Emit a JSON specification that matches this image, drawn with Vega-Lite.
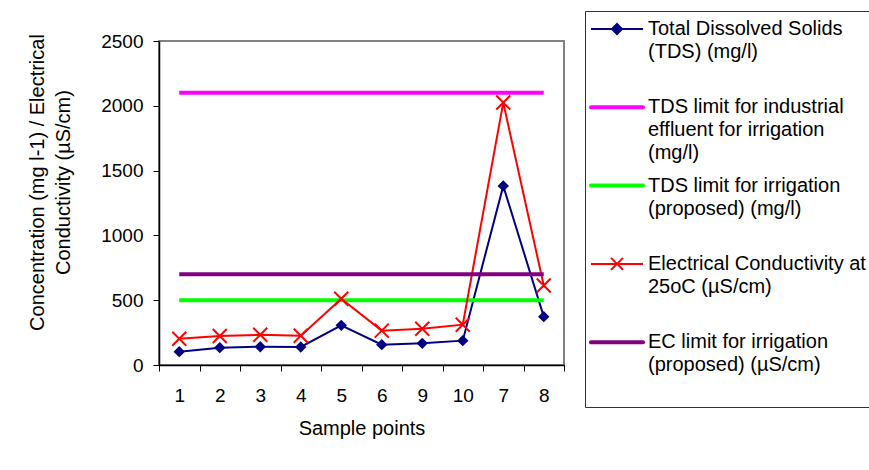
{
  "$schema": "https://vega.github.io/schema/vega-lite/v6.json",
  "width": 405,
  "height": 324,
  "autosize": {"type": "none"},
  "padding": {"left": 159, "top": 41, "right": 305, "bottom": 105},
  "background": "white",
  "config": {
    "font": "Liberation Sans",
    "view": {"stroke": "#808080", "strokeWidth": 2},
    "axis": {
      "labelFont": "Liberation Sans",
      "titleFont": "Liberation Sans",
      "labelFontSize": 19,
      "titleFontSize": 20,
      "titleFontWeight": "normal",
      "labelColor": "black",
      "titleColor": "black",
      "domainColor": "black",
      "domainWidth": 1.5,
      "tickColor": "black",
      "tickSize": 6,
      "grid": false
    }
  },
  "data": {
    "values": [
      {"sample": "1", "tds": 103, "ec": 203, "tdsInd": 2100, "tdsIrr": 500, "ecLim": 700},
      {"sample": "2", "tds": 134, "ec": 224, "tdsInd": 2100, "tdsIrr": 500, "ecLim": 700},
      {"sample": "3", "tds": 141, "ec": 233, "tdsInd": 2100, "tdsIrr": 500, "ecLim": 700},
      {"sample": "4", "tds": 139, "ec": 226, "tdsInd": 2100, "tdsIrr": 500, "ecLim": 700},
      {"sample": "5", "tds": 306, "ec": 511, "tdsInd": 2100, "tdsIrr": 500, "ecLim": 700},
      {"sample": "6", "tds": 157, "ec": 265, "tdsInd": 2100, "tdsIrr": 500, "ecLim": 700},
      {"sample": "9", "tds": 167, "ec": 280, "tdsInd": 2100, "tdsIrr": 500, "ecLim": 700},
      {"sample": "10", "tds": 188, "ec": 311, "tdsInd": 2100, "tdsIrr": 500, "ecLim": 700},
      {"sample": "7", "tds": 1382, "ec": 2025, "tdsInd": 2100, "tdsIrr": 500, "ecLim": 700},
      {"sample": "8", "tds": 373, "ec": 614, "tdsInd": 2100, "tdsIrr": 500, "ecLim": 700}
    ]
  },
  "transform": [
    {"fold": ["tds", "tdsInd", "tdsIrr", "ec", "ecLim"], "as": ["series", "value"]}
  ],
  "encoding": {
    "x": {
      "field": "sample",
      "type": "ordinal",
      "sort": null,
      "scale": {"type": "band", "paddingInner": 0, "paddingOuter": 0},
      "axis": {
        "title": "Sample points",
        "labelAngle": 0,
        "tickBand": "extent",
        "labelPadding": 15,
        "titlePadding": 13
      }
    },
    "y": {
      "field": "value",
      "type": "quantitative",
      "scale": {"domain": [0, 2500], "nice": false},
      "axis": {
        "values": [0, 500, 1000, 1500, 2000, 2500],
        "format": "d",
        "title": ["Concentration (mg l-1) / Electrical", "Conductivity  (µS/cm)"],
        "labelPadding": 10,
        "titleX": -122,
        "titleY": 141,
        "titleAngle": -90,
        "titleBaseline": "middle",
        "titleAlign": "center",
        "titleLineHeight": 26
      }
    }
  },
  "layer": [
    {
      "mark": {"type": "line"},
      "encoding": {
        "color": {
          "field": "series",
          "type": "nominal",
          "scale": {
            "domain": ["tds", "tdsInd", "tdsIrr", "ec", "ecLim"],
            "range": ["#000080", "#FF00FF", "#00FF00", "#FF0000", "#800080"]
          },
          "legend": {
            "title": null,
            "orient": "none",
            "legendX": 426,
            "legendY": -30,
            "padding": 8,
            "strokeColor": "#333333",
            "fillColor": "white",
            "labelFont": "Liberation Sans",
            "labelFontSize": 20,
            "labelColor": "black",
            "labelLimit": 400,
            "labelOffset": 21,
            "symbolOffset": 14,
            "symbolSize": 100,
            "rowPadding": 12.3,
            "labelBaseline": "middle",
            "labelExpr": "datum.value == 'tds' ? ['Total Dissolved Solids', '(TDS) (mg/l)', ' '] : datum.value == 'tdsInd' ? ['TDS limit for industrial', 'effluent for irrigation', '(mg/l)'] : datum.value == 'tdsIrr' ? ['TDS limit for irrigation', '(proposed) (mg/l)', ' '] : datum.value == 'ec' ? ['Electrical Conductivity at', '25oC (µS/cm)', ' '] : ['EC limit for irrigation', '(proposed) (µS/cm)', ' ']",
            "encode": {
              "symbols": {
                "update": {
                  "shape": {"signal": "datum.value == 'tds' ? 'M-5.2,0H5.2M0,-1L1,0L0,1L-1,0Z' : datum.value == 'ec' ? 'M-5.2,0H5.2M-1.2,-1.2L1.2,1.2M-1.2,1.2L1.2,-1.2' : 'M-5.2,0H5.2'"},
                  "strokeWidth": {"signal": "datum.value == 'tds' || datum.value == 'ec' ? 2 : 4.5"},
                  "fill": {"signal": "datum.value == 'tds' ? '#000080' : 'transparent'"},
                  "fillOpacity": {"value": 1},
                  "strokeCap": {"signal": "datum.value == 'tds' || datum.value == 'ec' ? 'butt' : 'round'"}
                }
              },
              "labels": {
                "update": {"lineHeight": {"value": 23}}
              }
            }
          }
        },
        "strokeWidth": {
          "field": "series",
          "type": "nominal",
          "scale": {
            "type": "ordinal",
            "domain": ["tds", "tdsInd", "tdsIrr", "ec", "ecLim"],
            "range": [2, 4, 4, 2, 4]
          },
          "legend": null
        }
      }
    },
    {
      "transform": [{"filter": "datum.series == 'tds'"}],
      "mark": {"type": "point", "shape": "diamond", "filled": true, "color": "#000080", "size": 130, "opacity": 1}
    },
    {
      "transform": [{"filter": "datum.series == 'ec'"}],
      "mark": {"type": "point", "shape": "M-1,-1L1,1M-1,1L1,-1", "filled": false, "color": "#FF0000", "size": 196, "strokeWidth": 2, "opacity": 1}
    }
  ]
}
